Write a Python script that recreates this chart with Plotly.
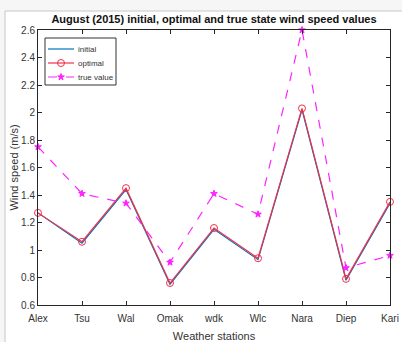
import plotly.graph_objects as go

# Weather stations and wind speed values (m/s), August 2015
stations = ["Alex", "Tsu", "Wal", "Omak", "wdk", "Wlc", "Nara", "Diep", "Kari"]
initial = [1.27, 1.05, 1.44, 0.75, 1.15, 0.93, 2.02, 0.78, 1.34]
optimal = [1.27, 1.06, 1.45, 0.76, 1.16, 0.94, 2.03, 0.79, 1.35]
true_value = [1.75, 1.41, 1.34, 0.91, 1.41, 1.26, 2.60, 0.87, 0.96]

W, H = 402, 342
L, R, T, B = 38, 12, 30, 37
pw, ph = W - L - R, H - T - B

def px_x(p):
    return (p - L) / pw

def px_y(p):
    return (H - B - p) / ph

font = "Liberation Sans, Arial, sans-serif"

series = [
    dict(name="initial", y=initial, color="#0072BD", dash="solid",
         symbol=None, size=0),
    dict(name="optimal", y=optimal, color="#f0304a", dash="solid",
         symbol="circle-open", size=7),
    dict(name="true value", y=true_value, color="#ff22ff", dash="dash",
         symbol="star", size=5),
]

fig = go.Figure()
for s in series:
    mode = "lines+markers" if s["symbol"] else "lines"
    fig.add_trace(go.Scatter(
        x=stations, y=s["y"], name=s["name"], mode=mode, cliponaxis=False,
        line=dict(color=s["color"], width=1.2, dash=s["dash"]),
        marker=dict(symbol=s["symbol"] or "circle", size=s["size"],
                    color=s["color"], line=dict(width=1, color=s["color"])),
        showlegend=False,
    ))

# outer figure frame
shapes = [
    dict(type="rect", xref="paper", yref="paper", layer="below",
         x0=px_x(5), x1=px_x(404), y0=px_y(350), y1=px_y(11),
         fillcolor="white", line=dict(color="#c8c8c8", width=1)),
]
# legend box, drawn on the overlay axes (0..1 spanning the plot area)
shapes.append(dict(type="rect", xref="x2", yref="y2", layer="below",
                   x0=px_x(45), x1=px_x(116), y0=px_y(85), y1=px_y(38),
                   fillcolor="white", line=dict(color="#333333", width=1)))
annotations = []
for i, s in enumerate(series):
    yy = 49 + i * 14
    fig.add_trace(go.Scatter(
        x=[px_x(48), px_x(74)], y=[px_y(yy), px_y(yy)], xaxis="x2", yaxis="y2",
        mode="lines", line=dict(color=s["color"], width=1.2, dash=s["dash"]),
        showlegend=False, hoverinfo="skip",
    ))
    if s["symbol"]:
        fig.add_trace(go.Scatter(
            x=[px_x(61)], y=[px_y(yy)], xaxis="x2", yaxis="y2", mode="markers",
            marker=dict(symbol=s["symbol"], size=s["size"], color=s["color"],
                        line=dict(width=1, color=s["color"])),
            showlegend=False, hoverinfo="skip", cliponaxis=False,
        ))
    annotations.append(dict(text=s["name"], xref="paper", yref="paper",
                            x=px_x(76), y=px_y(yy), xanchor="left", yanchor="middle",
                            showarrow=False,
                            font=dict(family=font, size=8, color="#333333")))

axis_common = dict(
    showline=True, linecolor="#262626", linewidth=1, mirror="ticks",
    ticks="inside", ticklen=4, tickcolor="#262626",
    showgrid=False, zeroline=False, automargin=False,
    tickfont=dict(family=font, size=10, color="#333333"),
)

fig.update_layout(
    width=W, height=H,
    margin=dict(l=L, r=R, t=T, b=B),
    paper_bgcolor="#f6f6f6",
    plot_bgcolor="white",
    showlegend=False,
    title=dict(
        text="<b>August (2015) initial, optimal and true state wind speed values</b>",
        x=px_x((L + W - R) / 2), xref="paper", xanchor="center",
        y=1 - 19 / H, yref="container", yanchor="middle",
        font=dict(family=font, size=11, color="#111111"),
    ),
    xaxis=dict(
        **axis_common,
        range=[0, len(stations) - 1],
        ticklabelstandoff=4,
        title=dict(text="Weather stations", standoff=9,
                   font=dict(family=font, size=11, color="#333333")),
    ),
    yaxis=dict(
        **axis_common,
        range=[0.6, 2.6], dtick=0.2, tick0=0.6,
        title=dict(text="Wind speed (m/s)", standoff=0,
                   font=dict(family=font, size=11, color="#333333")),
    ),
    # overlay axes spanning the plot area, used for the legend
    xaxis2=dict(overlaying="x", range=[0, 1], visible=False, fixedrange=True),
    yaxis2=dict(overlaying="y", range=[0, 1], visible=False, fixedrange=True),
    shapes=shapes,
    annotations=annotations,
)

fig.write_html("out.html")
